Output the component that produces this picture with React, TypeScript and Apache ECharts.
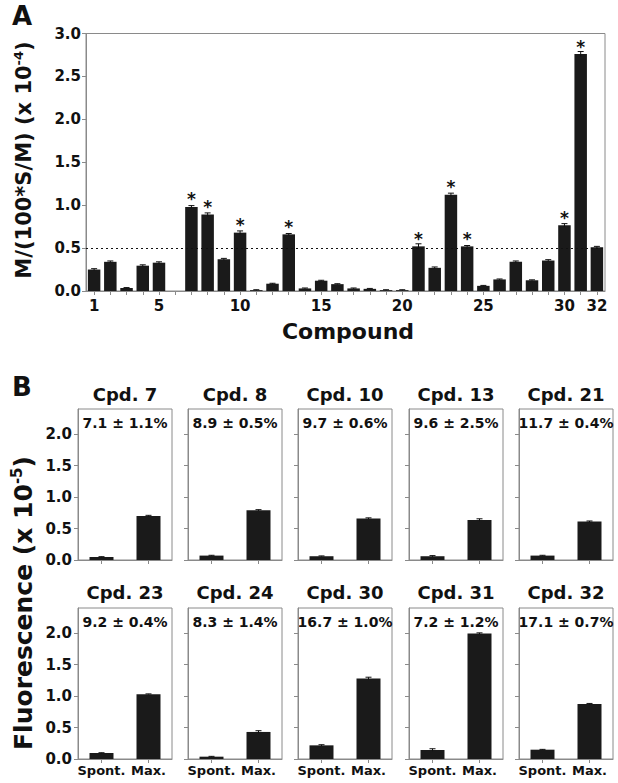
import React, { useEffect, useRef } from 'react';
import * as echarts from 'echarts';

// ---------- Panel A data ----------
const compounds = ['1','2','3','4','5','6','7','8','9','10','11','12','13','14','15','16','17','18','19','20','21','22','23','24','25','26','27','28','29','30','31','32'];
const activity = [0.25,0.34,0.035,0.295,0.33,0,0.98,0.89,0.37,0.68,0.01,0.085,0.66,0.03,0.12,0.08,0.03,0.025,0.01,0.01,0.52,0.27,1.12,0.52,0.06,0.135,0.34,0.125,0.355,0.765,2.76,0.51];
const activityErr = [0.01,0.01,0.005,0.01,0.01,0,0.015,0.02,0.01,0.02,0.005,0.005,0.01,0.005,0.005,0.005,0.005,0.005,0.005,0.005,0.03,0.01,0.02,0.01,0.005,0.005,0.01,0.005,0.01,0.02,0.03,0.01];
const significant = ['7','8','10','13','21','23','24','30','31'];
const shownCompoundLabels = ['1','5','10','15','20','25','30','32'];
const activityMax = 3.0;
const activityStep = 0.5;
const threshold = 0.5;

// ---------- Panel B data ----------
const panelTitles = ['Cpd. 7','Cpd. 8','Cpd. 10','Cpd. 13','Cpd. 21','Cpd. 23','Cpd. 24','Cpd. 30','Cpd. 31','Cpd. 32'];
const panelPercents = ['7.1 ± 1.1%','8.9 ± 0.5%','9.7 ± 0.6%','9.6 ± 2.5%','11.7 ± 0.4%','9.2 ± 0.4%','8.3 ± 1.4%','16.7 ± 1.0%','7.2 ± 1.2%','17.1 ± 0.7%'];
const conditions = ['Spont.', 'Max.'];
const spontValues = [0.048,0.07,0.06,0.06,0.07,0.095,0.037,0.217,0.143,0.148];
const spontErr = [0.005,0.005,0.005,0.01,0.005,0.005,0.005,0.01,0.02,0.005];
const maxValues = [0.70,0.79,0.66,0.635,0.61,1.03,0.43,1.28,1.995,0.873];
const maxErr = [0.01,0.01,0.01,0.02,0.01,0.005,0.02,0.02,0.01,0.01];
const fluorTicks = [0, 0.5, 1.0, 1.5, 2.0];
const fluorMax = 2.4;

const FONT = 'DejaVu Sans';
const INK = '#111111';
const GRAY = '#8a8a8a';
const BAR = '#1a1a1a';

function errorRenderer(capHalf: number) {
  return (params: any, api: any) => {
    const x = api.value(0);
    const v = api.value(1);
    const e = api.value(2);
    if (!e) return null;
    const top = api.coord([x, v + e]);
    const bot = api.coord([x, Math.max(0, v - e)]);
    return {
      type: 'group',
      children: [
        { type: 'line', shape: { x1: top[0], y1: top[1], x2: bot[0], y2: bot[1] }, style: { stroke: INK, lineWidth: 1 } },
        { type: 'line', shape: { x1: top[0] - capHalf, y1: top[1], x2: top[0] + capHalf, y2: top[1] }, style: { stroke: INK, lineWidth: 1 } },
      ],
    };
  };
}

function buildOption() {
  const grid: any[] = [];
  const xAxis: any[] = [];
  const yAxis: any[] = [];
  const series: any[] = [];
  const graphic: any[] = [];

  // Panel A
  grid.push({ left: 86, top: 33.5, width: 519, height: 257.5, show: true, borderColor: GRAY, borderWidth: 1, containLabel: false });
  xAxis.push({
    type: 'category', gridIndex: 0, data: compounds,
    axisLine: { lineStyle: { color: GRAY, width: 1 } },
    axisTick: { show: true, alignWithLabel: true, interval: 0, length: 4, lineStyle: { color: GRAY } },
    axisLabel: {
      interval: (i: number, v: string) => shownCompoundLabels.includes(v),
      color: INK, fontFamily: FONT, fontWeight: 'bold', fontSize: 15, margin: 7,
    },
  });
  yAxis.push({
    type: 'value', gridIndex: 0, min: 0, max: activityMax, interval: activityStep,
    axisLine: { show: true, lineStyle: { color: GRAY, width: 1 } },
    axisTick: { show: true, length: 4, lineStyle: { color: GRAY } },
    splitLine: { show: false },
    axisLabel: { color: INK, fontFamily: FONT, fontWeight: 'bold', fontSize: 15, margin: 5, formatter: (v: number) => v.toFixed(1) },
  });
  series.push({
    type: 'bar', xAxisIndex: 0, yAxisIndex: 0, data: activity, barWidth: 12.5,
    itemStyle: { color: BAR },
    label: {
      show: true, position: 'top', distance: -1,
      formatter: (p: any) => (significant.includes(p.name) ? '*' : ''),
      color: INK, fontFamily: FONT, fontWeight: 'bold', fontSize: 17,
    },
    markLine: {
      silent: true, symbol: 'none', label: { show: false },
      lineStyle: { color: INK, type: [2, 3], width: 1.2 },
      data: [{ yAxis: threshold }],
    },
  });
  series.push({
    type: 'custom', xAxisIndex: 0, yAxisIndex: 0, z: 5,
    renderItem: errorRenderer(3),
    encode: { x: 0, y: 1 },
    data: activity.map((v, i) => [i, v, activityErr[i]]),
  });

  // Panel B
  const lefts = [78, 188, 298, 409, 519];
  const tops = [409, 608];
  const W = 94;
  const H = 151;
  for (let k = 0; k < panelTitles.length; k++) {
    const row = Math.floor(k / 5);
    const col = k % 5;
    const gi = k + 1;
    const left = lefts[col];
    const top = tops[row];
    grid.push({ left, top, width: W, height: H, show: true, borderColor: GRAY, borderWidth: 1, containLabel: false });
    xAxis.push({
      type: 'category', gridIndex: gi, data: conditions,
      axisLine: { lineStyle: { color: GRAY, width: 1 } },
      axisTick: { show: true, alignWithLabel: true, interval: 0, length: 4, lineStyle: { color: GRAY } },
      axisLabel: { show: row === 1, interval: 0, hideOverlap: false, color: INK, fontFamily: FONT, fontWeight: 'bold', fontSize: 13, margin: 5 },
    });
    yAxis.push({
      type: 'value', gridIndex: gi, min: 0, max: fluorMax,
      axisLine: { show: true, lineStyle: { color: GRAY, width: 1 } },
      axisTick: { show: true, length: 4, lineStyle: { color: GRAY }, customValues: fluorTicks },
      splitLine: { show: false },
      axisLabel: {
        show: col === 0, customValues: fluorTicks,
        color: INK, fontFamily: FONT, fontWeight: 'bold', fontSize: 15, margin: 6,
        formatter: (v: number) => v.toFixed(1),
      },
    });
    series.push({
      type: 'bar', xAxisIndex: gi, yAxisIndex: gi, barWidth: 24,
      itemStyle: { color: BAR },
      data: [spontValues[k], maxValues[k]],
    });
    series.push({
      type: 'custom', xAxisIndex: gi, yAxisIndex: gi, z: 5,
      renderItem: errorRenderer(3),
      encode: { x: 0, y: 1 },
      data: [[0, spontValues[k], spontErr[k]], [1, maxValues[k], maxErr[k]]],
    });
    const cx = left + W / 2;
    graphic.push({
      type: 'text', x: cx, y: row === 0 ? 394 : 592,
      style: { text: panelTitles[k], fill: INK, font: `bold 18px "${FONT}"`, align: 'center', verticalAlign: 'middle' },
    });
    graphic.push({
      type: 'text', x: cx, y: row === 0 ? 423 : 622,
      style: { text: panelPercents[k], fill: INK, font: `bold 14px "${FONT}"`, align: 'center', verticalAlign: 'middle' },
    });
  }

  // Titles
  graphic.push({
    type: 'text', left: 12, top: 3,
    style: { text: 'A', fill: INK, font: `bold 26px "${FONT}"` },
  });
  graphic.push({
    type: 'text', left: 12, top: 374,
    style: { text: 'B', fill: INK, font: `bold 26px "${FONT}"` },
  });
  graphic.push({
    type: 'text', x: 348, y: 331,
    style: { text: 'Compound', fill: INK, font: `bold 22px "${FONT}"`, align: 'center', verticalAlign: 'middle' },
  });
  graphic.push({
    type: 'text', x: 24, y: 160, rotation: Math.PI / 2,
    style: {
      text: '{a|M/(100*S/M) (x 10}{s|-4}{a|)}',
      align: 'center', verticalAlign: 'middle', fill: INK,
      rich: {
        a: { fontFamily: FONT, fontWeight: 'bold', fontSize: 21, fill: INK },
        s: { fontFamily: FONT, fontWeight: 'bold', fontSize: 13, fill: INK, padding: [0, 0, 11, 0] },
      },
    },
  });
  graphic.push({
    type: 'text', x: 23, y: 603, rotation: Math.PI / 2,
    style: {
      text: '{a|Fluorescence (x 10}{s|-5}{a|)}',
      align: 'center', verticalAlign: 'middle', fill: INK,
      rich: {
        a: { fontFamily: FONT, fontWeight: 'bold', fontSize: 25, fill: INK },
        s: { fontFamily: FONT, fontWeight: 'bold', fontSize: 15, fill: INK, padding: [0, 0, 13, 0] },
      },
    },
  });

  return {
    animation: false,
    backgroundColor: '#ffffff',
    textStyle: { fontFamily: FONT },
    grid, xAxis, yAxis, series, graphic,
  };
}

export default function App() {
  const ref = useRef<HTMLDivElement>(null);
  useEffect(() => {
    if (!ref.current) return;
    const chart = echarts.init(ref.current, undefined, { renderer: 'svg' });
    chart.setOption(buildOption() as any);
    return () => chart.dispose();
  }, []);
  return (
    <div
      ref={ref}
      style={{ position: 'fixed', left: 0, top: 0, width: 618, height: 783, background: '#fff' }}
    />
  );
}
